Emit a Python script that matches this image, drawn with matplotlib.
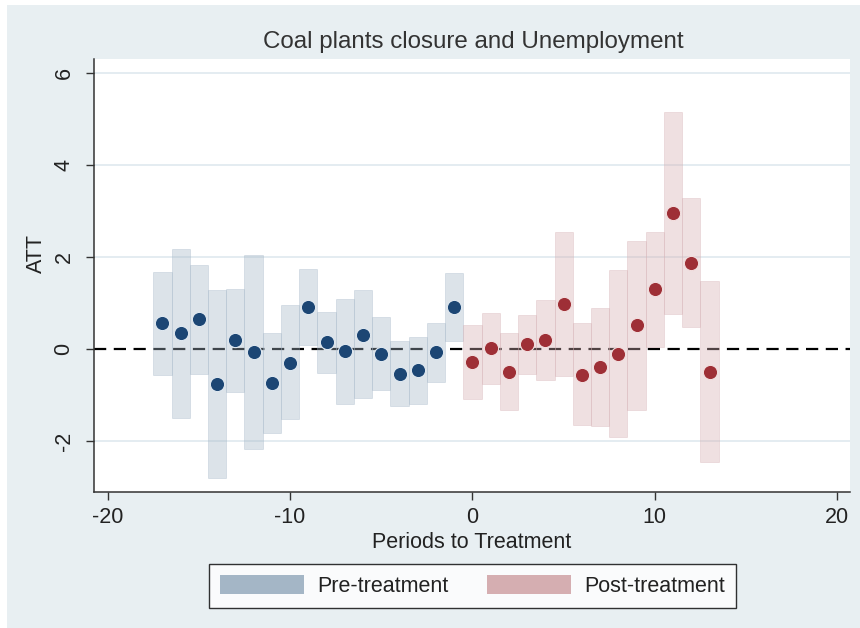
import matplotlib.pyplot as plt
from matplotlib.patches import Patch, Rectangle
import numpy as np

plt.rcParams['font.family'] = ['Liberation Sans', 'DejaVu Sans']
plt.rcParams['axes.unicode_minus'] = False

# event-study estimates, periods relative to closure
x_pre = np.arange(-17, 0)
att_pre = [0.57, 0.35, 0.65, -0.76, 0.20, -0.07, -0.74, -0.30, 0.91, 0.15,
           -0.04, 0.30, -0.11, -0.54, -0.46, -0.07, 0.90]
lo_pre = [-0.57, -1.50, -0.54, -2.80, -0.93, -2.17, -1.83, -1.52, 0.09, -0.52,
          -1.20, -1.07, -0.89, -1.24, -1.20, -0.72, 0.18]
hi_pre = [1.68, 2.17, 1.83, 1.28, 1.30, 2.04, 0.35, 0.95, 1.74, 0.80,
          1.09, 1.28, 0.70, 0.17, 0.26, 0.57, 1.66]

x_post = np.arange(0, 14)
att_post = [-0.28, 0.02, -0.50, 0.11, 0.20, 0.98, -0.57, -0.39, -0.11, 0.52,
            1.30, 2.96, 1.87, -0.50]
lo_post = [-1.08, -0.76, -1.33, -0.54, -0.67, -0.59, -1.65, -1.67, -1.91, -1.33,
           0.04, 0.76, 0.48, -2.46]
hi_post = [0.51, 0.78, 0.35, 0.74, 1.07, 2.54, 0.57, 0.89, 1.72, 2.35,
           2.54, 5.15, 3.28, 1.48]

xticks = [-20, -10, 0, 10, 20]
yticks = [-2, 0, 2, 4, 6]

bg = '#e8eff2'
pre_col = '#a4b6c6'
post_col = '#d5aeb1'
pre_dot = '#1c4674'
post_dot = '#9e2f36'
txt = '#222222'

fig = plt.figure(figsize=(8.6, 6.28), dpi=100, facecolor='white')
fig.patches.append(Rectangle((7/860, 0), 1, 1 - 5/628, transform=fig.transFigure,
                             facecolor=bg, edgecolor='none', zorder=-10))

ax = fig.add_axes([94/860, 136/628, 756/860, 433/628])
ax.set_facecolor('white')

for y in yticks:
    if y != 0:
        ax.axhline(y, color='#e4ecf1', lw=1.4, zorder=0)
ax.axhline(0, color='black', lw=1.6, ls=(0, (5.5, 3.4)), zorder=1)

lo_pre = np.array(lo_pre); hi_pre = np.array(hi_pre)
lo_post = np.array(lo_post); hi_post = np.array(hi_post)

ax.bar(x_pre, hi_pre - lo_pre, bottom=lo_pre, width=1.0, color=pre_col, alpha=0.38,
       edgecolor=pre_col, linewidth=0.6, zorder=2)
ax.bar(x_post, hi_post - lo_post, bottom=lo_post, width=1.0, color=post_col, alpha=0.38,
       edgecolor=post_col, linewidth=0.6, zorder=2)

ax.scatter(x_pre, att_pre, s=105, color=pre_dot, edgecolor='#dfe8f0', linewidth=0.8, zorder=3)
ax.scatter(x_post, att_post, s=105, color=post_dot, edgecolor='#f2dede', linewidth=0.8, zorder=3)

ax.set_xlim(-20.75, 20.7)
ax.set_ylim(-3.11, 6.30)
ax.set_xticks(xticks)
ax.set_yticks(yticks)
ax.set_yticklabels([str(v) for v in yticks], rotation=90, va='center')
ax.tick_params(axis='both', direction='out', length=6, width=1, color='#333333',
               labelsize=15.5, labelcolor=txt)
ax.tick_params(axis='y', pad=8)
ax.tick_params(axis='x', pad=5)

for s in ['top', 'right']:
    ax.spines[s].set_visible(False)
for s in ['left', 'bottom']:
    ax.spines[s].set_color('#333333')
    ax.spines[s].set_linewidth(1.1)

ax.set_xlabel('Periods to Treatment', fontsize=15.5, color=txt)
ax.xaxis.set_label_coords(0.5, -0.093)
ax.set_ylabel('ATT', fontsize=15.5, color=txt)
ax.yaxis.set_label_coords(-0.062, 0.55)

fig.text(473/860, 1 - 42/628, 'Coal plants closure and Unemployment', fontsize=17.4,
         color='#333333', ha='center', va='center')

handles = [Patch(facecolor=pre_col, edgecolor='none', label='Pre-treatment'),
           Patch(facecolor=post_col, edgecolor='none', label='Post-treatment')]
leg = fig.legend(handles=handles, loc='center', bbox_to_anchor=(472.5/860, 1 - 586/628),
                 ncol=2, fontsize=15.5, frameon=True, fancybox=False, handlelength=3.9,
                 handleheight=1.0, handletextpad=0.6, columnspacing=1.8, borderpad=0.5)
leg.get_frame().set_edgecolor('black')
leg.get_frame().set_linewidth(1.0)
leg.get_frame().set_facecolor('white')
for t in leg.get_texts():
    t.set_color(txt)

fig.savefig('out.png', dpi=100, facecolor=fig.get_facecolor())
